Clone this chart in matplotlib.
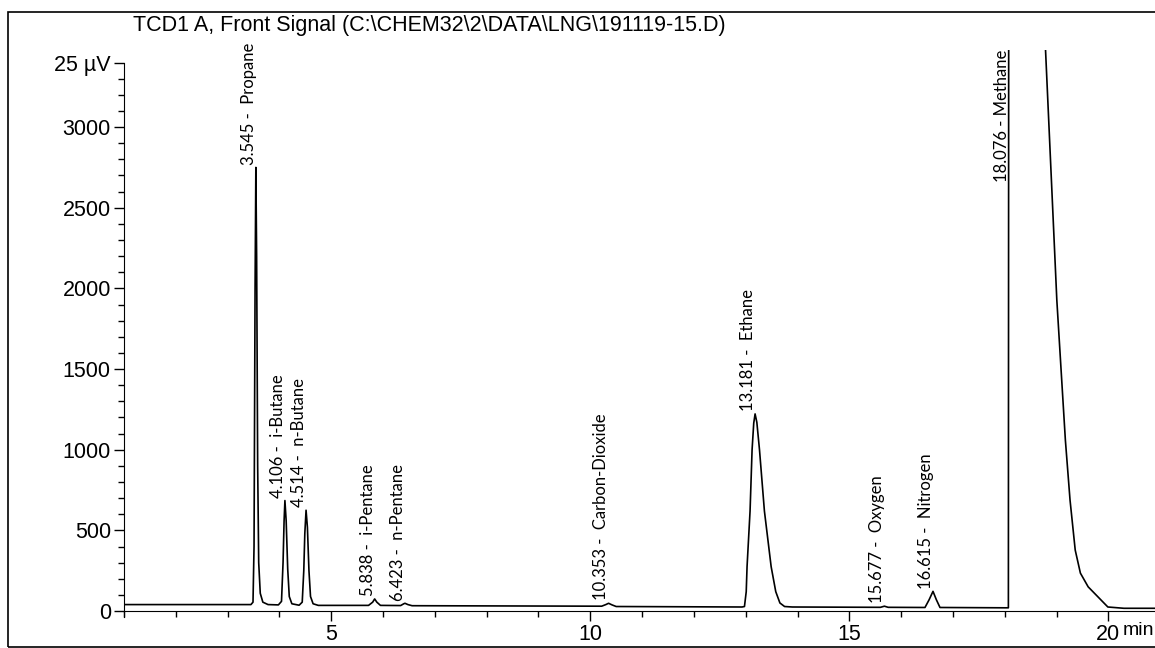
import numpy as np
import matplotlib.pyplot as plt
from matplotlib.patches import Rectangle
from matplotlib.ticker import MultipleLocator
from matplotlib.transforms import blended_transform_factory

# traced detector signal (time in min, signal in 25 uV units)
zaman = [1.0, 3.45, 3.49, 3.51, 3.53, 3.545, 3.56, 3.58, 3.60, 3.63, 3.68, 3.78,
         3.98, 4.04, 4.07, 4.09, 4.106, 4.13, 4.16, 4.19, 4.24,
         4.38, 4.44, 4.47, 4.49, 4.514, 4.54, 4.57, 4.60, 4.65, 4.75,
         5.72, 5.80, 5.838, 5.88, 5.95,
         6.34, 6.40, 6.423, 6.48, 6.56,
         10.22, 10.30, 10.353, 10.42, 10.50,
         12.93, 12.976, 13.01, 13.026, 13.084, 13.123, 13.155, 13.181, 13.215,
         13.266, 13.361, 13.491, 13.58, 13.66, 13.75, 13.9,
         15.60, 15.677, 15.75,
         16.46, 16.54, 16.615, 16.68, 16.75,
         18.00, 18.07, 18.076, 18.77, 19.005, 19.17, 19.26, 19.36, 19.46, 19.61,
         19.99, 20.3, 20.9]
sinyal = [40, 40, 55, 400, 2000, 2750, 2200, 900, 300, 110, 55, 40,
          38, 60, 300, 560, 685, 560, 260, 90, 45,
          36, 55, 250, 480, 625, 520, 250, 90, 45, 35,
          35, 55, 75, 55, 35,
          34, 45, 48, 40, 33,
          30, 40, 48, 38, 28,
          25, 28, 120, 275, 620, 1000, 1165, 1222, 1170,
          1000, 620, 275, 120, 50, 28, 25,
          23, 30, 23,
          22, 70, 122, 70, 22,
          20, 20, 3600, 3600, 1928, 1060, 688, 378, 235, 150,
          25, 17, 17]

# peak annotations
pik_zaman = [3.545, 4.106, 4.514, 5.838, 6.423, 10.353, 13.181, 15.677, 16.615]
pik_isim = ["Propane", "i-Butane", "n-Butane", "i-Pentane", "n-Pentane",
            "Carbon-Dioxide", "Ethane", "Oxygen", "Nitrogen"]
pik_yukseklik = [2750, 685, 625, 78, 48, 50, 1222, 30, 122]
metan_zaman = 18.076

baslik = "TCD1 A, Front Signal (C:\\CHEM32\\2\\DATA\\LNG\\191119-15.D)"

W, H = 1155, 648
fig = plt.figure(figsize=(W / 100, H / 100), dpi=100)
ax = fig.add_axes([124 / W, (H - 617) / H, (W - 124) / W, (617 - 50) / H])

ax.plot(zaman, sinyal, color="black", lw=1.2)
ax.set_xlim(1.0, 20.9)
ax.set_ylim(-37, 3478)

for s in ["top", "right"]:
    ax.spines[s].set_visible(False)
ax.spines["bottom"].set_position(("data", 0))
ax.spines["left"].set_bounds(-37, 3400)

ax.set_xticks([5, 10, 15, 20])
ax.xaxis.set_minor_locator(MultipleLocator(1))
ax.set_yticks([0, 500, 1000, 1500, 2000, 2500, 3000, 3400])
ax.set_yticklabels(["0", "500", "1000", "1500", "2000", "2500", "3000", "25 µV"])
ax.yaxis.set_minor_locator(MultipleLocator(100))
ax.tick_params(which="major", length=7.5, width=1, labelsize=15.5, pad=2)
ax.tick_params(which="minor", length=4, width=1)
for lab in ax.get_xticklabels() + ax.get_yticklabels():
    lab.set_family("Liberation Sans")

# unit label after the last x tick
ax.text(1154 / W, -65, "min", fontsize=14, family="Liberation Sans",
        ha="right", va="top", clip_on=False,
        transform=blended_transform_factory(fig.transFigure, ax.transData))

for t, isim, h in zip(pik_zaman, pik_isim, pik_yukseklik):
    ax.annotate(f"{t:.3f} -  {isim}", xy=(t, h), xytext=(-1.5, 2),
                textcoords="offset points", rotation=90, rotation_mode="anchor",
                ha="left", va="baseline", fontsize=12, family="Lato")
ax.annotate(f"{metan_zaman:.3f} - Methane", xy=(metan_zaman, 3478), xytext=(-1.5, 0),
            textcoords="offset points", rotation=90, rotation_mode="anchor",
            ha="right", va="baseline", fontsize=12, family="Lato",
            annotation_clip=False)

fig.patches.append(Rectangle((8 / W, 1 - 647 / H), 1.1, (647 - 12) / H,
                             transform=fig.transFigure, fill=False,
                             ec="black", lw=1.2))
fig.text(133 / W, 1 - 31 / H, baslik, fontsize=15.5, family="Liberation Sans",
         va="baseline")

fig.savefig("out.png", dpi=100)
